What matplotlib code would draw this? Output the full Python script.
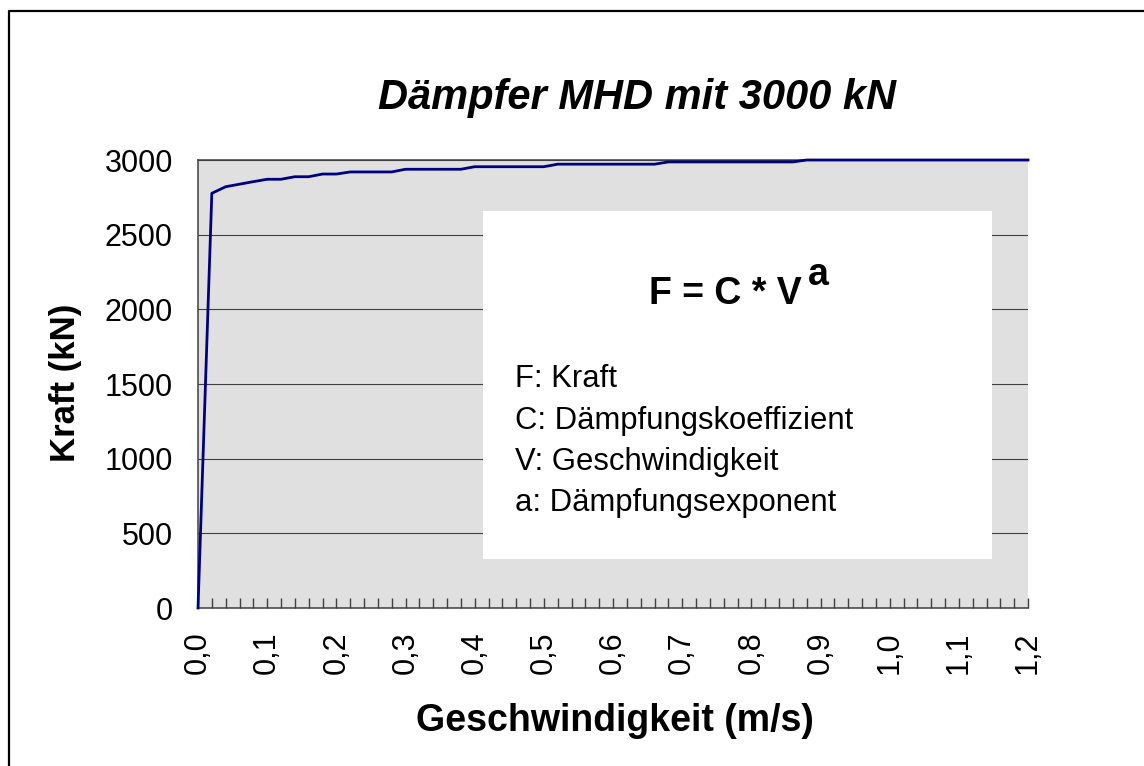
"""Daempfer-Kennlinie F = C * V^a, nachgebaut als Excel-artiges Liniendiagramm."""
import matplotlib
matplotlib.use("Agg")
import matplotlib.pyplot as plt
from matplotlib.patches import Rectangle
from matplotlib.lines import Line2D

plt.rcParams['font.family'] = ['Liberation Sans', 'DejaVu Sans']

# Geschwindigkeit (m/s), Kategorien der x-Achse
speed = [0.00, 0.02, 0.04, 0.06, 0.08, 0.10, 0.12, 0.14, 0.16, 0.18,
         0.20, 0.22, 0.24, 0.26, 0.28, 0.30, 0.32, 0.34, 0.36, 0.38,
         0.40, 0.42, 0.44, 0.46, 0.48, 0.50, 0.52, 0.54, 0.56, 0.58,
         0.60, 0.62, 0.64, 0.66, 0.68, 0.70, 0.72, 0.74, 0.76, 0.78,
         0.80, 0.82, 0.84, 0.86, 0.88, 0.90, 0.92, 0.94, 0.96, 0.98,
         1.00, 1.02, 1.04, 1.06, 1.08, 1.10, 1.12, 1.14, 1.16, 1.18,
         1.20]
# Kraft (kN)
force = [0, 2777, 2821, 2838, 2855, 2871, 2871, 2888, 2888, 2906,
         2906, 2920, 2920, 2920, 2920, 2938, 2938, 2938, 2938, 2938,
         2955, 2955, 2955, 2955, 2955, 2955, 2972, 2972, 2972, 2972,
         2972, 2972, 2972, 2972, 2987, 2987, 2987, 2987, 2987, 2987,
         2987, 2987, 2987, 2987, 3000, 3000, 3000, 3000, 3000, 3000,
         3000, 3000, 3000, 3000, 3000, 3000, 3000, 3000, 3000, 3000,
         3000]
y_ticks = [0, 500, 1000, 1500, 2000, 2500, 3000]
legend_lines = ["F: Kraft", "C: Dämpfungskoeffizient",
                "V: Geschwindigkeit", "a: Dämpfungsexponent"]

W, H = 1144, 766
fig = plt.figure(figsize=(W / 100, H / 100), dpi=100)
fig.patch.set_facecolor("white")

def fx(px):
    return px / W

def fy(py):
    return 1 - py / H

# Plotflaeche in Pixeln: links 198, rechts 1028, oben 160, unten 608
ax = fig.add_axes([fx(198), fy(608), fx(1028) - fx(198), fy(160) - fy(608)])
ax.set_facecolor("#e0e0e0")

idx = list(range(len(speed)))
ax.plot(idx, force, color="#000080", lw=2.0, zorder=5, clip_on=False)

ax.set_xlim(0, len(speed) - 1)
ax.set_ylim(0, 3000)
ax.set_yticks(y_ticks)
ax.set_yticklabels([str(v) for v in y_ticks], fontsize=22)
ax.set_xticks(idx[::5])
ax.set_xticklabels([f"{speed[i]:.1f}".replace(".", ",") for i in idx[::5]],
                   rotation=90, fontsize=22)
ax.set_xticks(idx, minor=True)

ax.tick_params(axis="x", which="both", direction="in", length=7, width=1,
               color="#404040", pad=17)
ax.tick_params(axis="y", length=0, pad=18)

ax.set_axisbelow(True)
ax.yaxis.grid(True, color="#404040", lw=0.8)
for side in ["left", "bottom", "top"]:
    ax.spines[side].set_color("#404040")
    ax.spines[side].set_linewidth(1.1)
ax.spines["right"].set_visible(False)

# weisser Kasten mit Formel
box = Rectangle((0.343, 0.109), 0.614, 0.777, transform=ax.transAxes,
                facecolor="white", edgecolor="none", zorder=2)
ax.add_patch(box)

fig.text(fx(725), fy(304), "F = C * V", fontsize=27, fontweight="bold",
         ha="center", va="baseline")
fig.text(fx(808), fy(285), "a", fontsize=27, fontweight="bold",
         ha="left", va="baseline")
for i, txt in enumerate(legend_lines):
    fig.text(fx(515), fy(387 + i * 41.5), txt, fontsize=22.3,
             ha="left", va="baseline")

# Titel und Achsenbeschriftungen
fig.text(fx(637), fy(109), "Dämpfer MHD mit 3000 kN", fontsize=30,
         fontweight="bold", fontstyle="italic", ha="center", va="baseline")
fig.text(fx(615), fy(731), "Geschwindigkeit (m/s)", fontsize=27,
         fontweight="bold", ha="center", va="baseline")
fig.text(fx(65), fy(383), "Kraft (kN)", fontsize=25, fontweight="bold",
         rotation=90, ha="center", va="center")

# Rahmen des Diagrammbereichs (rechts und unten abgeschnitten)
fig.add_artist(Line2D([fx(9), fx(9), fx(W + 5)], [fy(H + 5), fy(11), fy(11)],
                      transform=fig.transFigure, color="black", lw=1.6))

fig.savefig("out.png", dpi=100)
